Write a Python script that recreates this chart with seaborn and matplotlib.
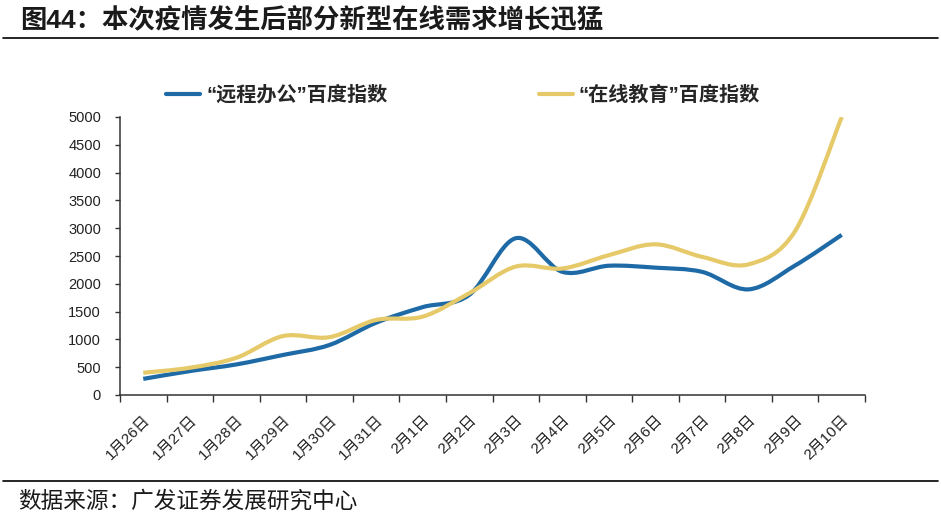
import numpy as np
import pandas as pd
import seaborn as sns
import matplotlib.pyplot as plt
from matplotlib.path import Path
from matplotlib.patches import PathPatch
from matplotlib.lines import Line2D

# Data
dates = ['1月26日', '1月27日', '1月28日', '1月29日', '1月30日', '1月31日', '2月1日', '2月2日',
         '2月3日', '2月4日', '2月5日', '2月6日', '2月7日', '2月8日', '2月9日', '2月10日']
remote_office = [290, 430, 550, 720, 900, 1300, 1580, 1800, 2820, 2215, 2325, 2290, 2215, 1900, 2330, 2880]
online_edu = [400, 490, 670, 1060, 1040, 1350, 1410, 1830, 2310, 2275, 2515, 2710, 2485, 2350, 2950, 5000]

series_names = ['“远程办公”百度指数', '“在线教育”百度指数']
colors = ['#1d6aa6', '#e6c968']

CJK = ['Liberation Sans', 'Noto Sans CJK SC', 'DejaVu Sans']


def smooth_path(x, y):
    """Excel-style smoothed line: cubic Bezier through every point."""
    pts = np.column_stack([x, y]).astype(float)
    n = len(pts)
    verts = [pts[0]]
    codes = [Path.MOVETO]
    for i in range(n - 1):
        p0 = pts[i - 1] if i > 0 else pts[i]
        p1 = pts[i]
        p2 = pts[i + 1]
        p3 = pts[i + 2] if i + 2 < n else pts[i + 1]
        verts += [p1 + (p2 - p0) / 6, p2 - (p3 - p1) / 6, p2]
        codes += [Path.CURVE4] * 3
    return Path(verts, codes)


def main():
    sns.set_theme(style='white')
    plt.rcParams['font.family'] = CJK

    df = pd.DataFrame({
        'idx': list(range(len(dates))) * 2,
        'value': remote_office + online_edu,
        'series': [series_names[0]] * len(dates) + [series_names[1]] * len(dates),
    })

    fig = plt.figure(figsize=(9.41, 5.22), dpi=100)
    ax = fig.add_axes([120 / 941, 1 - 395 / 522, 745 / 941, 278 / 522])

    sns.lineplot(data=df, x='idx', y='value', hue='series', palette=colors,
                 linewidth=3, ax=ax, legend=False)

    # swap the straight segments for smoothed curves
    for line, color in zip(ax.get_lines(), colors):
        xy = line.get_xydata()
        ax.add_patch(PathPatch(smooth_path(xy[:, 0], xy[:, 1]), facecolor='none',
                               edgecolor=color, lw=3, capstyle='butt', joinstyle='round'))
        line.set_visible(False)

    ax.set_xlim(-0.5, len(dates) - 0.5)
    ax.set_ylim(0, 5000)
    ax.set_yticks(range(0, 5001, 500))
    ax.set_xlabel('')
    ax.set_ylabel('')

    ax.set_xticks(np.arange(-0.5, len(dates), 1))
    ax.set_xticklabels([])
    ax.set_xticks(np.arange(len(dates)), minor=True)
    ax.set_xticklabels(dates, minor=True, rotation=45, ha='right', va='top',
                       rotation_mode='anchor', fontsize=11, color='#222222')
    ax.tick_params(axis='x', which='major', direction='out', length=5, width=1,
                   color='#333333', bottom=True)
    ax.tick_params(axis='x', which='minor', length=0, pad=13, bottom=True)
    ax.tick_params(axis='y', direction='out', length=3.6, width=1, color='#333333',
                   pad=10, labelsize=10.5, labelcolor='#222222', left=True)

    for side in ['top', 'right']:
        ax.spines[side].set_visible(False)
    for side in ['left', 'bottom']:
        ax.spines[side].set_color('#333333')
        ax.spines[side].set_linewidth(1.1)

    handles = [Line2D([], [], color=c, lw=3) for c in colors]
    fig.legend(handles, series_names, loc='center left', ncol=2,
               bbox_to_anchor=(166 / 941, 1 - 95 / 522), frameon=False,
               borderpad=0, borderaxespad=0, handlelength=1.7, handletextpad=0.3,
               columnspacing=7.5, prop={'size': 14.5, 'weight': 'bold'})

    # title and footer
    fig.text(20 / 941, 1 - 20 / 522, '图44：本次疫情发生后部分新型在线需求增长迅猛',
             fontsize=19, fontweight='bold', color='#1a1a1a', va='center', ha='left')
    fig.add_artist(Line2D([3 / 941, 938 / 941], [1 - 38 / 522, 1 - 38 / 522],
                          color='black', lw=1.2))
    fig.add_artist(Line2D([3 / 941, 938 / 941], [1 - 481 / 522, 1 - 481 / 522],
                          color='black', lw=1.2))
    fig.text(18 / 941, 1 - 501 / 522, '数据来源：广发证券发展研究中心',
             fontsize=16.3, color='#1a1a1a', va='center', ha='left')

    fig.savefig('out.png', dpi=100)


if __name__ == '__main__':
    main()
